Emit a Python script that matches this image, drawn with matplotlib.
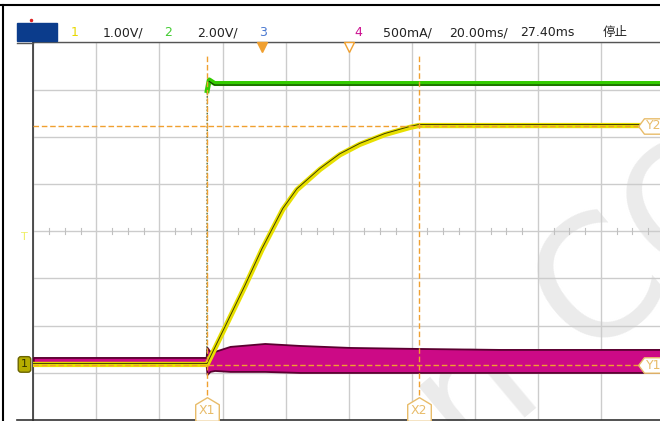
import numpy as np
import matplotlib
matplotlib.use('Agg')
import matplotlib.pyplot as plt
from matplotlib import transforms
from matplotlib.path import Path

plt.rcParams['font.family'] = ['DejaVu Sans', 'Noto Sans CJK SC']

# scope settings
ch1_scale = 1.0      # V/div
ch2_scale = 2.0      # V/div
ch4_scale = 500.0    # mA/div
time_div = 20.0      # ms/div
trig_offset = -27.4  # ms (trigger position relative to centre)
trig_level = 2.85    # V

# channel 1 (yellow) - volts vs ms from screen centre
t_ch1 = [-100, -44.9, -39.2, -32.9, -27.5, -20.9, -16.4, -9.1, -2.8, 3.5, 11.5, 19.4, 22.2, 100]
v_ch1 = [0.0, 0.0, 0.78, 1.65, 2.43, 3.28, 3.70, 4.13, 4.44, 4.66, 4.87, 5.02, 5.06, 5.06]

# channel 2 (green) - volts
t_ch2 = [-100, -44.95, -44.85, -44.2, -42.5, 100]
v_ch2 = [0.0, 0.0, 11.6, 12.05, 11.9, 11.9]

# channel 4 (magenta) - current envelope, mA
t_ch4 = [-100, -45.2, -44.9, -44.0, -42.5, -37.6, -26.6, -15.5, 0.4, 22.6, 47.9, 100]
i_top = [74, 74, 180, 138, 138, 191, 222, 201, 180, 169, 159, 159]
i_bot = [-11, -11, -106, -74, -64, -74, -74, -85, -85, -85, -85, -85]

# cursors
x1_cur, x2_cur = -44.9, 22.2   # ms
y1_cur = -7.0                  # mA (ch4)
y2_cur = 5.06                  # V (ch1)

W, H = 660, 421
fig = plt.figure(figsize=(W / 100, H / 100), dpi=100)
fig.patch.set_facecolor('white')

def fx(px):
    return px / W

def fy(py):
    return 1 - py / H

# watermark, behind the grid
fig.text(fx(592), fy(300), 'n CO', fontsize=120, color='#ebebeb', rotation=40,
         ha='center', va='center', zorder=-1)

ax = fig.add_axes([fx(33.3), fy(420), (664 - 33.3) / W, (420 - 42.3) / H])
ax.patch.set_alpha(0)
centre = 2.823
ax.set_xlim(-5 * time_div, 5 * time_div)
ax.set_ylim(centre - 4, centre + 4)
ax.set_xticks([])
ax.set_yticks([])
for s in ['top', 'right']:
    ax.spines[s].set_visible(False)
ax.spines['left'].set_color('#333333')
ax.spines['bottom'].set_color('#333333')
ax.spines['left'].set_linewidth(1.2)
ax.spines['bottom'].set_linewidth(1.2)

# grid
for k in range(-5, 6):
    ax.axvline(k * time_div, color='#cccccc', lw=1.0, zorder=1)
for k in range(-3, 5):
    ax.axhline(centre + k, color='#cccccc', lw=1.0, zorder=1)
ax.axhline(centre + 4, color='#555555', lw=1.0, zorder=1, clip_on=False)
# minor ticks on the centre line
for k in range(-20, 21):
    if k % 4:
        ax.plot([k * time_div / 4] * 2, [centre - 0.07, centre + 0.07],
                color='#c0c0c0', lw=0.8, zorder=1)

# channel 4 current band
mag_top = np.array(i_top) / ch4_scale * ch1_scale
mag_bot = np.array(i_bot) / ch4_scale * ch1_scale
ax.fill_between(t_ch4, mag_bot, mag_top, facecolor='#cc0a86', edgecolor='#5a0030',
                lw=1.3, zorder=3)

# channel 2
v2 = np.array(v_ch2) / ch2_scale
ax.plot(t_ch2[1:3], v2[1:3], color='#224400', lw=0.8, ls=(0, (1.5, 1.5)), zorder=4)
ax.plot(t_ch2[2:], v2[2:], color='#33cc00', lw=3.6, zorder=4)
dark = transforms.offset_copy(ax.transData, fig=fig, y=-1.5, units='dots')
ax.plot(t_ch2[3:], v2[3:], color='#113300', lw=0.8, zorder=4, transform=dark)

# channel 1
v1 = np.array(v_ch1) / ch1_scale
ax.plot(t_ch1, v1, color='#e8e000', lw=3.8, zorder=5)
ax.plot(t_ch1, v1, color='#404000', lw=0.7, zorder=5,
        transform=transforms.offset_copy(ax.transData, fig=fig, y=1, units='dots'))

# cursors
cur_c = '#f0a030'
ax.axvline(x1_cur, color=cur_c, lw=1, ls=(0, (4, 2)), zorder=6, ymax=0.97)
ax.axvline(x2_cur, color=cur_c, lw=1, ls=(0, (4, 2)), zorder=6, ymax=0.97)
y1v = y1_cur / ch4_scale * ch1_scale
ax.plot([-100, 93], [y1v, y1v], color=cur_c, lw=1, ls=(0, (4, 2)), zorder=6)
ax.plot([-100, 93], [y2_cur, y2_cur], color=cur_c, lw=1, ls=(0, (4, 2)), zorder=6)

lab_c = '#e8bc6a'
up_pent = Path([(-1, -1), (1, -1), (1, 0.4), (0, 1), (-1, 0.4), (-1, -1)])
left_hex = Path([(-1, 0), (-0.55, 0.6), (1.3, 0.6), (1.3, -0.6), (-0.55, -0.6), (-1, 0)])
yb = centre - 4 + 0.24
for xc, name in [(x1_cur, 'X1'), (x2_cur, 'X2')]:
    ax.plot([xc], [yb], marker=up_pent, ms=17, mfc='white', mec=lab_c, mew=1,
            zorder=7, clip_on=False)
    ax.text(xc, yb - 0.03, name, color=lab_c, fontsize=9, ha='center', va='center',
            zorder=8)
for yc, name in [(y1v, 'Y1'), (y2_cur, 'Y2')]:
    ax.plot([96], [yc], marker=left_hex, ms=24, mfc='white', mec=lab_c, mew=1,
            zorder=7, clip_on=False)
    ax.text(94.3, yc, name, color=lab_c, fontsize=9, ha='left', va='center', zorder=8,
            clip_on=False)

# trigger position markers at the top
ax.plot([trig_offset], [centre + 4 - 0.09], marker='v', ms=7, color='#f0a030',
        zorder=7, clip_on=False)
ax.plot([0], [centre + 4 - 0.09], marker='v', ms=7, mfc='white', mec='#f0a030',
        zorder=7, clip_on=False)

# left markers
bl = transforms.blended_transform_factory(fig.transFigure, ax.transData)
fig.text(fx(24.5), 0.0, '1', transform=bl, fontsize=8, color='#333300', ha='center',
         va='center', bbox=dict(boxstyle='round,pad=0.25', fc='#b5ad00', ec='#6a6400'))
fig.text(fx(24.5), trig_level - 0.05, 'T', transform=bl, fontsize=8, color='#eeee66',
         ha='center', va='top')

# frame lines
fig.add_artist(plt.Line2D([0, 1], [fy(5), fy(5)], color='black', lw=1.5))
fig.add_artist(plt.Line2D([fx(3), fx(3)], [0, fy(5)], color='black', lw=1.5))
fig.add_artist(plt.Line2D([fx(17), fx(33)], [fy(42.5), fy(42.5)], color='#555555', lw=1))
fig.add_artist(plt.Line2D([fx(17), fx(33)], [fy(420), fy(420)], color='#333333', lw=1.2))

# header
fig.add_artist(plt.Rectangle((fx(17), fy(41)), fx(40), 18 / H, color='#0b3c8c'))
fig.add_artist(plt.Line2D([fx(31)], [fy(20)], marker='o', ms=1.5, color='#dd2222'))
ty = fy(32.5)
hdr = [(75, '1', '#e8d800', 'center'), (103, '1.00V/', '#222222', 'left'),
       (168, '2', '#44cc33', 'center'), (197, '2.00V/', '#222222', 'left'),
       (263, '3', '#4a78d0', 'center'), (358, '4', '#cc1090', 'center'),
       (383, '500mA/', '#222222', 'left'), (449, '20.00ms/', '#222222', 'left'),
       (520, '27.40ms', '#222222', 'left'), (603, '停止', '#222222', 'left')]
for px, s, c, ha in hdr:
    fig.text(fx(px), ty, s, color=c, fontsize=9, ha=ha, va='center')

fig.savefig('out.png', dpi=100)
